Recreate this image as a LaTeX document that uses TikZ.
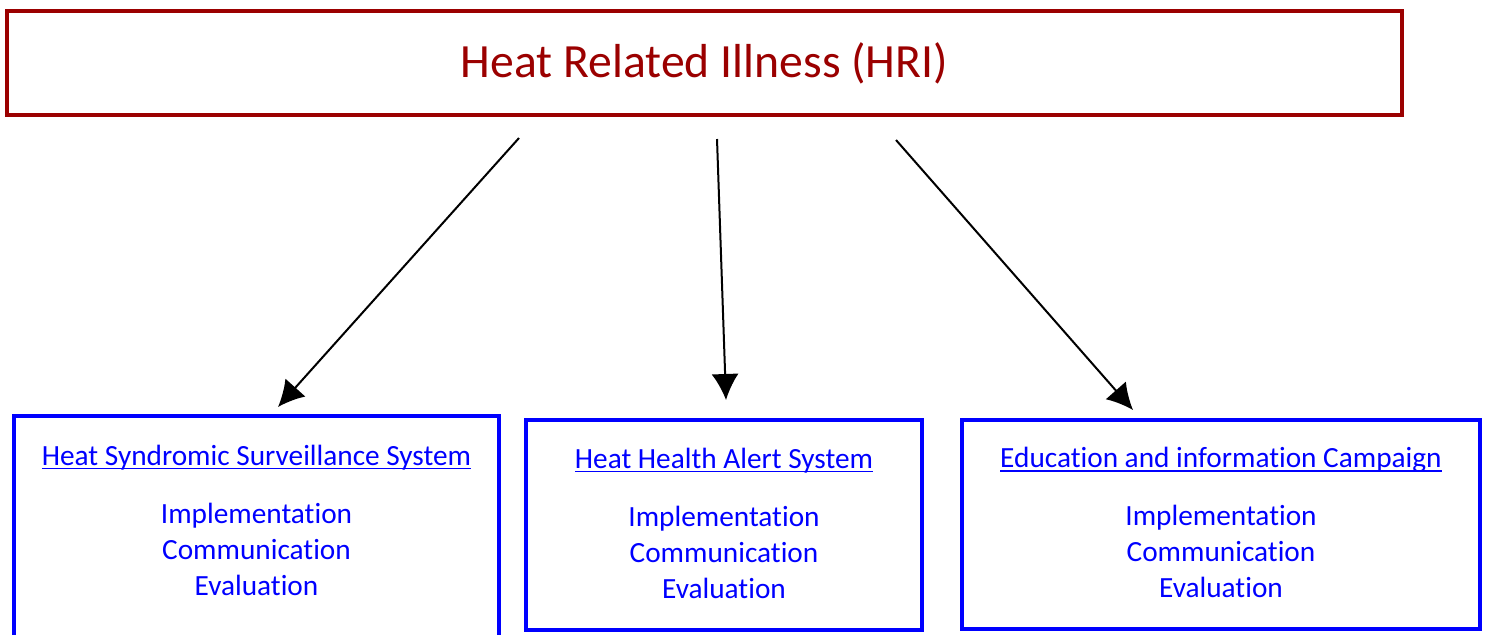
\documentclass[tikz,border=0pt]{standalone}
\usepackage{fontspec}
\setmainfont[Ligatures={NoCommon}]{Carlito}
\usepackage{tikz}
\usetikzlibrary{arrows.meta,positioning}
\definecolor{hrired}{RGB}{155,0,0}
\definecolor{hriblue}{RGB}{0,0,255}
\newcommand{\undl}[1]{\setbox0\hbox{#1}\rlap{\rule[-2pt]{\wd0}{0.6pt}}\box0}

\begin{document}
\begin{tikzpicture}[
    x=0.5pt,
    y=-0.5pt,
    >={Latex[length=13pt,width=13.5pt]},
    font=\fontsize{14.65pt}{18pt}\selectfont,
    illness/.style={
		rectangle,
		draw=hrired,
		line width=2pt,
		text=hrired,
		inner sep=0pt,
		minimum width=697.5pt,
		minimum height=52pt,
		font=\fontsize{23.85pt}{28pt}\selectfont
	},
	measure/.style={
		rectangle,
		draw=hriblue,
		line width=2pt,
		text=hriblue,
		align=center,
		inner sep=0pt,
		minimum width=198pt,
		minimum height=105pt
	},
	link/.style={
		->,
		line width=1pt
	}
  ]

 \useasboundingbox (0,0) rectangle (1487,634);
 \clip (0,0) rectangle (1487,634);
 \fill [white] (0,0) rectangle (1487,634);

% // The illness
 \node [illness] (hri) at (704.5,63) {Heat Related Illness (HRI)};

% // The three measures
 \node [measure, below of=hri, node distance=231pt, xshift=9.75pt] (hha)
 {\undl{Heat Health Alert System}\\[11pt]
  Implementation\\ Communication\\ Evaluation\rule[-2pt]{0pt}{2pt}};
 \node [measure, left of=hha, node distance=233.75pt, yshift=-6.5pt,
 minimum width=242.5pt, minimum height=122pt] (hss)
 {\undl{Heat Syndromic Surveillance System}\\[11pt]
  Implementation\\ Communication\\ Evaluation\rule[-18pt]{0pt}{18pt}};
 \node [measure, right of=hha, node distance=248.5pt, yshift=0.25pt,
 minimum width=259pt, minimum height=104.5pt] (eic)
 {\undl{Education and information Campaign}\\[11pt]
  Implementation\\ Communication\\ Evaluation\rule[-2pt]{0pt}{2pt}};

 \draw [link] ([xshift=-92.75pt, yshift=-10.5pt]hri.south) -- ([xshift=10.75pt, yshift=3.5pt]hss.north);
 \draw [link] ([xshift=6.25pt, yshift=-11pt]hri.south) -- ([xshift=1pt, yshift=9pt]hha.north);
 \draw [link] ([xshift=95.75pt, yshift=-11.5pt]hri.south) -- ([xshift=-44pt, yshift=4pt]eic.north);

\end{tikzpicture}
\end{document}
